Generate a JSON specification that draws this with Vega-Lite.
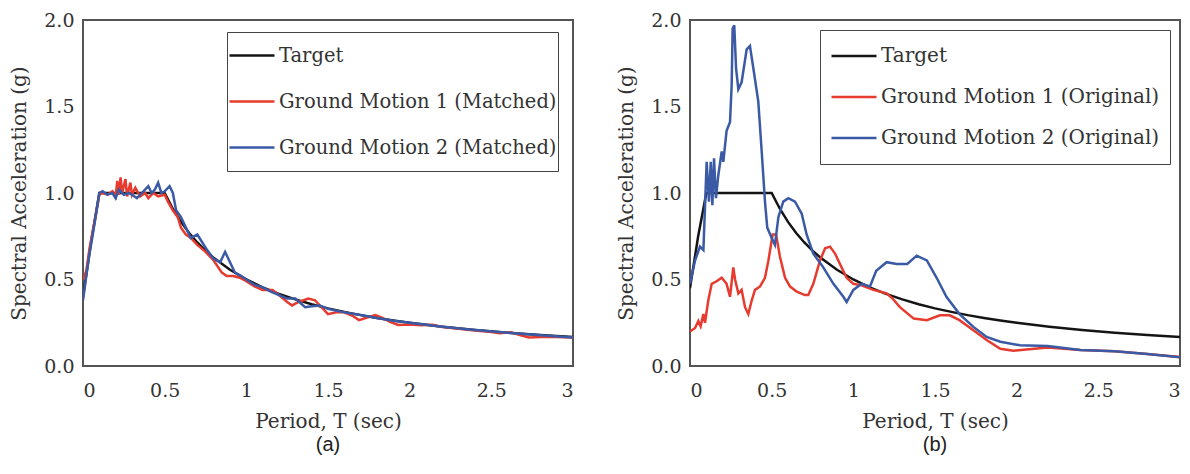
{
  "$schema": "https://vega.github.io/schema/vega-lite/v6.json",
  "padding": {"left": 8, "top": 10, "right": 5, "bottom": 0},
  "spacing": 41,
  "background": "white",
  "config": {
    "view": {"stroke": "#555", "strokeWidth": 2},
    "axis": {"grid": false, "ticks": false, "tickSize": 0, "domain": false, "labelFont": "DejaVu Serif", "labelFontSize": 19, "labelColor": "#333", "titleFont": "DejaVu Serif", "titleFontSize": 20, "titleFontWeight": "normal", "titleColor": "#333"},
    "legend": {"symbolType": "stroke", "symbolSize": 2025, "symbolStrokeWidth": 2.5, "labelFont": "DejaVu Serif", "labelFontSize": 20, "labelColor": "#333", "labelLimit": 400, "labelOffset": 3, "strokeColor": "#444", "fillColor": "white", "orient": "none"}
  },
  "datasets": {
    "a": [
      {"s": "Target", "T": 0, "Sa": 0.4}, {"s": "Target", "T": 0.05, "Sa": 0.72}, {"s": "Target", "T": 0.1, "Sa": 1.0}, {"s": "Target", "T": 0.5, "Sa": 1.0}, {"s": "Target", "T": 0.55, "Sa": 0.909}, {"s": "Target", "T": 0.6, "Sa": 0.833}, {"s": "Target", "T": 0.65, "Sa": 0.769}, {"s": "Target", "T": 0.7, "Sa": 0.714}, {"s": "Target", "T": 0.75, "Sa": 0.667}, {"s": "Target", "T": 0.8, "Sa": 0.625}, {"s": "Target", "T": 0.9, "Sa": 0.556}, {"s": "Target", "T": 1.0, "Sa": 0.5}, {"s": "Target", "T": 1.1, "Sa": 0.455}, {"s": "Target", "T": 1.2, "Sa": 0.417}, {"s": "Target", "T": 1.3, "Sa": 0.385}, {"s": "Target", "T": 1.4, "Sa": 0.357}, {"s": "Target", "T": 1.5, "Sa": 0.333}, {"s": "Target", "T": 1.6, "Sa": 0.313}, {"s": "Target", "T": 1.7, "Sa": 0.294}, {"s": "Target", "T": 1.8, "Sa": 0.278}, {"s": "Target", "T": 1.9, "Sa": 0.263}, {"s": "Target", "T": 2.0, "Sa": 0.25}, {"s": "Target", "T": 2.2, "Sa": 0.227}, {"s": "Target", "T": 2.4, "Sa": 0.208}, {"s": "Target", "T": 2.6, "Sa": 0.192}, {"s": "Target", "T": 2.8, "Sa": 0.179}, {"s": "Target", "T": 3.0, "Sa": 0.167},
      {"s": "Ground Motion 1 (Matched)", "T": 0, "Sa": 0.5}, {"s": "Ground Motion 1 (Matched)", "T": 0.02, "Sa": 0.55}, {"s": "Ground Motion 1 (Matched)", "T": 0.04, "Sa": 0.68}, {"s": "Ground Motion 1 (Matched)", "T": 0.06, "Sa": 0.78}, {"s": "Ground Motion 1 (Matched)", "T": 0.08, "Sa": 0.88}, {"s": "Ground Motion 1 (Matched)", "T": 0.1, "Sa": 0.99}, {"s": "Ground Motion 1 (Matched)", "T": 0.12, "Sa": 1.0}, {"s": "Ground Motion 1 (Matched)", "T": 0.15, "Sa": 0.99}, {"s": "Ground Motion 1 (Matched)", "T": 0.18, "Sa": 1.01}, {"s": "Ground Motion 1 (Matched)", "T": 0.2, "Sa": 0.98}, {"s": "Ground Motion 1 (Matched)", "T": 0.21, "Sa": 1.07}, {"s": "Ground Motion 1 (Matched)", "T": 0.22, "Sa": 0.99}, {"s": "Ground Motion 1 (Matched)", "T": 0.23, "Sa": 1.09}, {"s": "Ground Motion 1 (Matched)", "T": 0.24, "Sa": 1.0}, {"s": "Ground Motion 1 (Matched)", "T": 0.26, "Sa": 1.08}, {"s": "Ground Motion 1 (Matched)", "T": 0.27, "Sa": 0.98}, {"s": "Ground Motion 1 (Matched)", "T": 0.29, "Sa": 1.06}, {"s": "Ground Motion 1 (Matched)", "T": 0.3, "Sa": 0.99}, {"s": "Ground Motion 1 (Matched)", "T": 0.32, "Sa": 1.03}, {"s": "Ground Motion 1 (Matched)", "T": 0.35, "Sa": 0.98}, {"s": "Ground Motion 1 (Matched)", "T": 0.38, "Sa": 1.0}, {"s": "Ground Motion 1 (Matched)", "T": 0.4, "Sa": 0.97}, {"s": "Ground Motion 1 (Matched)", "T": 0.43, "Sa": 1.0}, {"s": "Ground Motion 1 (Matched)", "T": 0.46, "Sa": 0.98}, {"s": "Ground Motion 1 (Matched)", "T": 0.5, "Sa": 0.99}, {"s": "Ground Motion 1 (Matched)", "T": 0.52, "Sa": 0.95}, {"s": "Ground Motion 1 (Matched)", "T": 0.55, "Sa": 0.9}, {"s": "Ground Motion 1 (Matched)", "T": 0.58, "Sa": 0.86}, {"s": "Ground Motion 1 (Matched)", "T": 0.6, "Sa": 0.8}, {"s": "Ground Motion 1 (Matched)", "T": 0.63, "Sa": 0.76}, {"s": "Ground Motion 1 (Matched)", "T": 0.66, "Sa": 0.74}, {"s": "Ground Motion 1 (Matched)", "T": 0.7, "Sa": 0.7}, {"s": "Ground Motion 1 (Matched)", "T": 0.75, "Sa": 0.66}, {"s": "Ground Motion 1 (Matched)", "T": 0.8, "Sa": 0.61}, {"s": "Ground Motion 1 (Matched)", "T": 0.85, "Sa": 0.54}, {"s": "Ground Motion 1 (Matched)", "T": 0.88, "Sa": 0.52}, {"s": "Ground Motion 1 (Matched)", "T": 0.92, "Sa": 0.52}, {"s": "Ground Motion 1 (Matched)", "T": 0.96, "Sa": 0.51}, {"s": "Ground Motion 1 (Matched)", "T": 1.0, "Sa": 0.49}, {"s": "Ground Motion 1 (Matched)", "T": 1.05, "Sa": 0.46}, {"s": "Ground Motion 1 (Matched)", "T": 1.1, "Sa": 0.44}, {"s": "Ground Motion 1 (Matched)", "T": 1.16, "Sa": 0.44}, {"s": "Ground Motion 1 (Matched)", "T": 1.2, "Sa": 0.41}, {"s": "Ground Motion 1 (Matched)", "T": 1.25, "Sa": 0.37}, {"s": "Ground Motion 1 (Matched)", "T": 1.28, "Sa": 0.35}, {"s": "Ground Motion 1 (Matched)", "T": 1.32, "Sa": 0.37}, {"s": "Ground Motion 1 (Matched)", "T": 1.38, "Sa": 0.39}, {"s": "Ground Motion 1 (Matched)", "T": 1.42, "Sa": 0.38}, {"s": "Ground Motion 1 (Matched)", "T": 1.47, "Sa": 0.33}, {"s": "Ground Motion 1 (Matched)", "T": 1.5, "Sa": 0.3}, {"s": "Ground Motion 1 (Matched)", "T": 1.55, "Sa": 0.31}, {"s": "Ground Motion 1 (Matched)", "T": 1.6, "Sa": 0.31}, {"s": "Ground Motion 1 (Matched)", "T": 1.65, "Sa": 0.29}, {"s": "Ground Motion 1 (Matched)", "T": 1.69, "Sa": 0.265}, {"s": "Ground Motion 1 (Matched)", "T": 1.74, "Sa": 0.28}, {"s": "Ground Motion 1 (Matched)", "T": 1.79, "Sa": 0.295}, {"s": "Ground Motion 1 (Matched)", "T": 1.83, "Sa": 0.28}, {"s": "Ground Motion 1 (Matched)", "T": 1.88, "Sa": 0.255}, {"s": "Ground Motion 1 (Matched)", "T": 1.93, "Sa": 0.237}, {"s": "Ground Motion 1 (Matched)", "T": 2.0, "Sa": 0.24}, {"s": "Ground Motion 1 (Matched)", "T": 2.07, "Sa": 0.236}, {"s": "Ground Motion 1 (Matched)", "T": 2.14, "Sa": 0.238}, {"s": "Ground Motion 1 (Matched)", "T": 2.2, "Sa": 0.226}, {"s": "Ground Motion 1 (Matched)", "T": 2.3, "Sa": 0.216}, {"s": "Ground Motion 1 (Matched)", "T": 2.4, "Sa": 0.205}, {"s": "Ground Motion 1 (Matched)", "T": 2.5, "Sa": 0.196}, {"s": "Ground Motion 1 (Matched)", "T": 2.55, "Sa": 0.19}, {"s": "Ground Motion 1 (Matched)", "T": 2.62, "Sa": 0.195}, {"s": "Ground Motion 1 (Matched)", "T": 2.68, "Sa": 0.178}, {"s": "Ground Motion 1 (Matched)", "T": 2.73, "Sa": 0.165}, {"s": "Ground Motion 1 (Matched)", "T": 2.8, "Sa": 0.168}, {"s": "Ground Motion 1 (Matched)", "T": 2.9, "Sa": 0.168}, {"s": "Ground Motion 1 (Matched)", "T": 3.0, "Sa": 0.165},
      {"s": "Ground Motion 2 (Matched)", "T": 0, "Sa": 0.38}, {"s": "Ground Motion 2 (Matched)", "T": 0.02, "Sa": 0.52}, {"s": "Ground Motion 2 (Matched)", "T": 0.04, "Sa": 0.65}, {"s": "Ground Motion 2 (Matched)", "T": 0.06, "Sa": 0.76}, {"s": "Ground Motion 2 (Matched)", "T": 0.08, "Sa": 0.88}, {"s": "Ground Motion 2 (Matched)", "T": 0.1, "Sa": 1.0}, {"s": "Ground Motion 2 (Matched)", "T": 0.12, "Sa": 1.01}, {"s": "Ground Motion 2 (Matched)", "T": 0.15, "Sa": 0.99}, {"s": "Ground Motion 2 (Matched)", "T": 0.18, "Sa": 1.0}, {"s": "Ground Motion 2 (Matched)", "T": 0.2, "Sa": 0.97}, {"s": "Ground Motion 2 (Matched)", "T": 0.22, "Sa": 1.02}, {"s": "Ground Motion 2 (Matched)", "T": 0.25, "Sa": 0.99}, {"s": "Ground Motion 2 (Matched)", "T": 0.28, "Sa": 1.0}, {"s": "Ground Motion 2 (Matched)", "T": 0.3, "Sa": 0.99}, {"s": "Ground Motion 2 (Matched)", "T": 0.33, "Sa": 0.97}, {"s": "Ground Motion 2 (Matched)", "T": 0.36, "Sa": 1.0}, {"s": "Ground Motion 2 (Matched)", "T": 0.38, "Sa": 1.02}, {"s": "Ground Motion 2 (Matched)", "T": 0.4, "Sa": 1.04}, {"s": "Ground Motion 2 (Matched)", "T": 0.42, "Sa": 1.0}, {"s": "Ground Motion 2 (Matched)", "T": 0.44, "Sa": 1.02}, {"s": "Ground Motion 2 (Matched)", "T": 0.46, "Sa": 1.06}, {"s": "Ground Motion 2 (Matched)", "T": 0.48, "Sa": 1.0}, {"s": "Ground Motion 2 (Matched)", "T": 0.5, "Sa": 1.01}, {"s": "Ground Motion 2 (Matched)", "T": 0.53, "Sa": 1.04}, {"s": "Ground Motion 2 (Matched)", "T": 0.55, "Sa": 1.0}, {"s": "Ground Motion 2 (Matched)", "T": 0.57, "Sa": 0.9}, {"s": "Ground Motion 2 (Matched)", "T": 0.6, "Sa": 0.86}, {"s": "Ground Motion 2 (Matched)", "T": 0.63, "Sa": 0.8}, {"s": "Ground Motion 2 (Matched)", "T": 0.66, "Sa": 0.74}, {"s": "Ground Motion 2 (Matched)", "T": 0.7, "Sa": 0.76}, {"s": "Ground Motion 2 (Matched)", "T": 0.72, "Sa": 0.73}, {"s": "Ground Motion 2 (Matched)", "T": 0.76, "Sa": 0.67}, {"s": "Ground Motion 2 (Matched)", "T": 0.8, "Sa": 0.62}, {"s": "Ground Motion 2 (Matched)", "T": 0.84, "Sa": 0.6}, {"s": "Ground Motion 2 (Matched)", "T": 0.87, "Sa": 0.66}, {"s": "Ground Motion 2 (Matched)", "T": 0.9, "Sa": 0.6}, {"s": "Ground Motion 2 (Matched)", "T": 0.93, "Sa": 0.54}, {"s": "Ground Motion 2 (Matched)", "T": 0.97, "Sa": 0.52}, {"s": "Ground Motion 2 (Matched)", "T": 1.0, "Sa": 0.5}, {"s": "Ground Motion 2 (Matched)", "T": 1.05, "Sa": 0.47}, {"s": "Ground Motion 2 (Matched)", "T": 1.1, "Sa": 0.455}, {"s": "Ground Motion 2 (Matched)", "T": 1.15, "Sa": 0.43}, {"s": "Ground Motion 2 (Matched)", "T": 1.2, "Sa": 0.41}, {"s": "Ground Motion 2 (Matched)", "T": 1.25, "Sa": 0.39}, {"s": "Ground Motion 2 (Matched)", "T": 1.3, "Sa": 0.39}, {"s": "Ground Motion 2 (Matched)", "T": 1.36, "Sa": 0.34}, {"s": "Ground Motion 2 (Matched)", "T": 1.4, "Sa": 0.345}, {"s": "Ground Motion 2 (Matched)", "T": 1.45, "Sa": 0.35}, {"s": "Ground Motion 2 (Matched)", "T": 1.5, "Sa": 0.33}, {"s": "Ground Motion 2 (Matched)", "T": 1.6, "Sa": 0.31}, {"s": "Ground Motion 2 (Matched)", "T": 1.7, "Sa": 0.295}, {"s": "Ground Motion 2 (Matched)", "T": 1.8, "Sa": 0.278}, {"s": "Ground Motion 2 (Matched)", "T": 1.9, "Sa": 0.262}, {"s": "Ground Motion 2 (Matched)", "T": 2.0, "Sa": 0.25}, {"s": "Ground Motion 2 (Matched)", "T": 2.2, "Sa": 0.227}, {"s": "Ground Motion 2 (Matched)", "T": 2.4, "Sa": 0.208}, {"s": "Ground Motion 2 (Matched)", "T": 2.6, "Sa": 0.192}, {"s": "Ground Motion 2 (Matched)", "T": 2.8, "Sa": 0.178}, {"s": "Ground Motion 2 (Matched)", "T": 3.0, "Sa": 0.165}
    ],
    "b": [
      {"s": "Target", "T": 0, "Sa": 0.45}, {"s": "Target", "T": 0.05, "Sa": 0.75}, {"s": "Target", "T": 0.1, "Sa": 1.0}, {"s": "Target", "T": 0.5, "Sa": 1.0}, {"s": "Target", "T": 0.55, "Sa": 0.909}, {"s": "Target", "T": 0.6, "Sa": 0.833}, {"s": "Target", "T": 0.65, "Sa": 0.769}, {"s": "Target", "T": 0.7, "Sa": 0.714}, {"s": "Target", "T": 0.75, "Sa": 0.667}, {"s": "Target", "T": 0.8, "Sa": 0.625}, {"s": "Target", "T": 0.9, "Sa": 0.556}, {"s": "Target", "T": 1.0, "Sa": 0.5}, {"s": "Target", "T": 1.1, "Sa": 0.455}, {"s": "Target", "T": 1.2, "Sa": 0.417}, {"s": "Target", "T": 1.3, "Sa": 0.385}, {"s": "Target", "T": 1.4, "Sa": 0.357}, {"s": "Target", "T": 1.5, "Sa": 0.333}, {"s": "Target", "T": 1.6, "Sa": 0.313}, {"s": "Target", "T": 1.7, "Sa": 0.294}, {"s": "Target", "T": 1.8, "Sa": 0.278}, {"s": "Target", "T": 1.9, "Sa": 0.263}, {"s": "Target", "T": 2.0, "Sa": 0.25}, {"s": "Target", "T": 2.2, "Sa": 0.227}, {"s": "Target", "T": 2.4, "Sa": 0.208}, {"s": "Target", "T": 2.6, "Sa": 0.192}, {"s": "Target", "T": 2.8, "Sa": 0.179}, {"s": "Target", "T": 3.0, "Sa": 0.167},
      {"s": "Ground Motion 1 (Original)", "T": 0, "Sa": 0.2}, {"s": "Ground Motion 1 (Original)", "T": 0.031, "Sa": 0.22}, {"s": "Ground Motion 1 (Original)", "T": 0.051, "Sa": 0.26}, {"s": "Ground Motion 1 (Original)", "T": 0.065, "Sa": 0.23}, {"s": "Ground Motion 1 (Original)", "T": 0.082, "Sa": 0.3}, {"s": "Ground Motion 1 (Original)", "T": 0.092, "Sa": 0.25}, {"s": "Ground Motion 1 (Original)", "T": 0.112, "Sa": 0.38}, {"s": "Ground Motion 1 (Original)", "T": 0.133, "Sa": 0.475}, {"s": "Ground Motion 1 (Original)", "T": 0.163, "Sa": 0.49}, {"s": "Ground Motion 1 (Original)", "T": 0.194, "Sa": 0.51}, {"s": "Ground Motion 1 (Original)", "T": 0.224, "Sa": 0.475}, {"s": "Ground Motion 1 (Original)", "T": 0.245, "Sa": 0.4}, {"s": "Ground Motion 1 (Original)", "T": 0.265, "Sa": 0.57}, {"s": "Ground Motion 1 (Original)", "T": 0.276, "Sa": 0.5}, {"s": "Ground Motion 1 (Original)", "T": 0.296, "Sa": 0.42}, {"s": "Ground Motion 1 (Original)", "T": 0.316, "Sa": 0.44}, {"s": "Ground Motion 1 (Original)", "T": 0.337, "Sa": 0.34}, {"s": "Ground Motion 1 (Original)", "T": 0.357, "Sa": 0.3}, {"s": "Ground Motion 1 (Original)", "T": 0.378, "Sa": 0.38}, {"s": "Ground Motion 1 (Original)", "T": 0.398, "Sa": 0.44}, {"s": "Ground Motion 1 (Original)", "T": 0.429, "Sa": 0.46}, {"s": "Ground Motion 1 (Original)", "T": 0.459, "Sa": 0.51}, {"s": "Ground Motion 1 (Original)", "T": 0.48, "Sa": 0.61}, {"s": "Ground Motion 1 (Original)", "T": 0.506, "Sa": 0.76}, {"s": "Ground Motion 1 (Original)", "T": 0.527, "Sa": 0.76}, {"s": "Ground Motion 1 (Original)", "T": 0.551, "Sa": 0.63}, {"s": "Ground Motion 1 (Original)", "T": 0.582, "Sa": 0.51}, {"s": "Ground Motion 1 (Original)", "T": 0.612, "Sa": 0.46}, {"s": "Ground Motion 1 (Original)", "T": 0.653, "Sa": 0.43}, {"s": "Ground Motion 1 (Original)", "T": 0.704, "Sa": 0.41}, {"s": "Ground Motion 1 (Original)", "T": 0.724, "Sa": 0.41}, {"s": "Ground Motion 1 (Original)", "T": 0.755, "Sa": 0.475}, {"s": "Ground Motion 1 (Original)", "T": 0.796, "Sa": 0.61}, {"s": "Ground Motion 1 (Original)", "T": 0.827, "Sa": 0.68}, {"s": "Ground Motion 1 (Original)", "T": 0.857, "Sa": 0.69}, {"s": "Ground Motion 1 (Original)", "T": 0.888, "Sa": 0.65}, {"s": "Ground Motion 1 (Original)", "T": 0.918, "Sa": 0.59}, {"s": "Ground Motion 1 (Original)", "T": 0.959, "Sa": 0.51}, {"s": "Ground Motion 1 (Original)", "T": 1.0, "Sa": 0.475}, {"s": "Ground Motion 1 (Original)", "T": 1.051, "Sa": 0.466}, {"s": "Ground Motion 1 (Original)", "T": 1.122, "Sa": 0.44}, {"s": "Ground Motion 1 (Original)", "T": 1.204, "Sa": 0.42}, {"s": "Ground Motion 1 (Original)", "T": 1.24, "Sa": 0.39}, {"s": "Ground Motion 1 (Original)", "T": 1.285, "Sa": 0.34}, {"s": "Ground Motion 1 (Original)", "T": 1.37, "Sa": 0.274}, {"s": "Ground Motion 1 (Original)", "T": 1.45, "Sa": 0.265}, {"s": "Ground Motion 1 (Original)", "T": 1.53, "Sa": 0.293}, {"s": "Ground Motion 1 (Original)", "T": 1.59, "Sa": 0.293}, {"s": "Ground Motion 1 (Original)", "T": 1.65, "Sa": 0.265}, {"s": "Ground Motion 1 (Original)", "T": 1.735, "Sa": 0.207}, {"s": "Ground Motion 1 (Original)", "T": 1.816, "Sa": 0.15}, {"s": "Ground Motion 1 (Original)", "T": 1.9, "Sa": 0.1}, {"s": "Ground Motion 1 (Original)", "T": 1.98, "Sa": 0.088}, {"s": "Ground Motion 1 (Original)", "T": 2.06, "Sa": 0.095}, {"s": "Ground Motion 1 (Original)", "T": 2.19, "Sa": 0.107}, {"s": "Ground Motion 1 (Original)", "T": 2.39, "Sa": 0.092}, {"s": "Ground Motion 1 (Original)", "T": 2.6, "Sa": 0.085}, {"s": "Ground Motion 1 (Original)", "T": 2.8, "Sa": 0.069}, {"s": "Ground Motion 1 (Original)", "T": 3.0, "Sa": 0.052},
      {"s": "Ground Motion 2 (Original)", "T": 0, "Sa": 0.475}, {"s": "Ground Motion 2 (Original)", "T": 0.031, "Sa": 0.61}, {"s": "Ground Motion 2 (Original)", "T": 0.061, "Sa": 0.69}, {"s": "Ground Motion 2 (Original)", "T": 0.082, "Sa": 0.67}, {"s": "Ground Motion 2 (Original)", "T": 0.102, "Sa": 1.18}, {"s": "Ground Motion 2 (Original)", "T": 0.116, "Sa": 0.95}, {"s": "Ground Motion 2 (Original)", "T": 0.127, "Sa": 1.18}, {"s": "Ground Motion 2 (Original)", "T": 0.137, "Sa": 0.93}, {"s": "Ground Motion 2 (Original)", "T": 0.147, "Sa": 1.2}, {"s": "Ground Motion 2 (Original)", "T": 0.159, "Sa": 0.97}, {"s": "Ground Motion 2 (Original)", "T": 0.173, "Sa": 1.1}, {"s": "Ground Motion 2 (Original)", "T": 0.194, "Sa": 1.24}, {"s": "Ground Motion 2 (Original)", "T": 0.204, "Sa": 1.18}, {"s": "Ground Motion 2 (Original)", "T": 0.224, "Sa": 1.36}, {"s": "Ground Motion 2 (Original)", "T": 0.245, "Sa": 1.41}, {"s": "Ground Motion 2 (Original)", "T": 0.255, "Sa": 1.62}, {"s": "Ground Motion 2 (Original)", "T": 0.261, "Sa": 1.95}, {"s": "Ground Motion 2 (Original)", "T": 0.271, "Sa": 1.97}, {"s": "Ground Motion 2 (Original)", "T": 0.282, "Sa": 1.72}, {"s": "Ground Motion 2 (Original)", "T": 0.296, "Sa": 1.6}, {"s": "Ground Motion 2 (Original)", "T": 0.316, "Sa": 1.64}, {"s": "Ground Motion 2 (Original)", "T": 0.347, "Sa": 1.83}, {"s": "Ground Motion 2 (Original)", "T": 0.367, "Sa": 1.85}, {"s": "Ground Motion 2 (Original)", "T": 0.388, "Sa": 1.72}, {"s": "Ground Motion 2 (Original)", "T": 0.418, "Sa": 1.53}, {"s": "Ground Motion 2 (Original)", "T": 0.439, "Sa": 1.24}, {"s": "Ground Motion 2 (Original)", "T": 0.459, "Sa": 0.95}, {"s": "Ground Motion 2 (Original)", "T": 0.473, "Sa": 0.8}, {"s": "Ground Motion 2 (Original)", "T": 0.5, "Sa": 0.74}, {"s": "Ground Motion 2 (Original)", "T": 0.52, "Sa": 0.7}, {"s": "Ground Motion 2 (Original)", "T": 0.541, "Sa": 0.86}, {"s": "Ground Motion 2 (Original)", "T": 0.571, "Sa": 0.95}, {"s": "Ground Motion 2 (Original)", "T": 0.602, "Sa": 0.97}, {"s": "Ground Motion 2 (Original)", "T": 0.643, "Sa": 0.95}, {"s": "Ground Motion 2 (Original)", "T": 0.684, "Sa": 0.88}, {"s": "Ground Motion 2 (Original)", "T": 0.714, "Sa": 0.76}, {"s": "Ground Motion 2 (Original)", "T": 0.755, "Sa": 0.65}, {"s": "Ground Motion 2 (Original)", "T": 0.816, "Sa": 0.57}, {"s": "Ground Motion 2 (Original)", "T": 0.878, "Sa": 0.475}, {"s": "Ground Motion 2 (Original)", "T": 0.939, "Sa": 0.4}, {"s": "Ground Motion 2 (Original)", "T": 0.959, "Sa": 0.37}, {"s": "Ground Motion 2 (Original)", "T": 1.0, "Sa": 0.44}, {"s": "Ground Motion 2 (Original)", "T": 1.051, "Sa": 0.475}, {"s": "Ground Motion 2 (Original)", "T": 1.102, "Sa": 0.46}, {"s": "Ground Motion 2 (Original)", "T": 1.14, "Sa": 0.55}, {"s": "Ground Motion 2 (Original)", "T": 1.204, "Sa": 0.6}, {"s": "Ground Motion 2 (Original)", "T": 1.265, "Sa": 0.59}, {"s": "Ground Motion 2 (Original)", "T": 1.33, "Sa": 0.59}, {"s": "Ground Motion 2 (Original)", "T": 1.388, "Sa": 0.638}, {"s": "Ground Motion 2 (Original)", "T": 1.45, "Sa": 0.61}, {"s": "Ground Motion 2 (Original)", "T": 1.51, "Sa": 0.51}, {"s": "Ground Motion 2 (Original)", "T": 1.57, "Sa": 0.4}, {"s": "Ground Motion 2 (Original)", "T": 1.65, "Sa": 0.3}, {"s": "Ground Motion 2 (Original)", "T": 1.735, "Sa": 0.226}, {"s": "Ground Motion 2 (Original)", "T": 1.816, "Sa": 0.168}, {"s": "Ground Motion 2 (Original)", "T": 1.9, "Sa": 0.14}, {"s": "Ground Motion 2 (Original)", "T": 2.02, "Sa": 0.12}, {"s": "Ground Motion 2 (Original)", "T": 2.19, "Sa": 0.115}, {"s": "Ground Motion 2 (Original)", "T": 2.39, "Sa": 0.092}, {"s": "Ground Motion 2 (Original)", "T": 2.6, "Sa": 0.085}, {"s": "Ground Motion 2 (Original)", "T": 2.8, "Sa": 0.069}, {"s": "Ground Motion 2 (Original)", "T": 3.0, "Sa": 0.05}
    ]
  },
  "hconcat": [
    {
      "width": 490,
      "height": 346,
      "data": {"name": "a"},
      "title": {"text": "(a)", "orient": "bottom", "font": "Liberation Sans", "fontSize": 20, "fontWeight": "normal", "offset": 4, "color": "#222"},
      "mark": {"type": "line", "strokeWidth": 2.5, "clip": true},
      "encoding": {
        "x": {"field": "T", "type": "quantitative", "scale": {"domain": [0, 3], "nice": false}, "axis": {"values": [0, 0.5, 1, 1.5, 2, 2.5, 3], "format": "~g", "title": "Period, T (sec)", "labelPadding": 15, "titlePadding": 11}},
        "y": {"field": "Sa", "type": "quantitative", "scale": {"domain": [0, 2], "nice": false}, "axis": {"values": [0, 0.5, 1, 1.5, 2], "format": ".1f", "title": "Spectral Acceleration (g)", "labelPadding": 9, "titlePadding": 14}},
        "color": {"field": "s", "type": "nominal", "scale": {"domain": ["Target", "Ground Motion 1 (Matched)", "Ground Motion 2 (Matched)"], "range": ["#141414", "#e63b2e", "#3a5aa6"]}, "legend": {"title": null, "legendX": 144, "legendY": 12, "padding": 1, "labelFontSize": 19.5, "clipHeight": 45, "rowPadding": 1}}
      }
    },
    {
      "width": 490,
      "height": 346,
      "data": {"name": "b"},
      "title": {"text": "(b)", "orient": "bottom", "font": "Liberation Sans", "fontSize": 20, "fontWeight": "normal", "offset": 4, "color": "#222"},
      "mark": {"type": "line", "strokeWidth": 2.5, "clip": true},
      "encoding": {
        "x": {"field": "T", "type": "quantitative", "scale": {"domain": [0, 3], "nice": false}, "axis": {"values": [0, 0.5, 1, 1.5, 2, 2.5, 3], "format": "~g", "title": "Period, T (sec)", "labelPadding": 15, "titlePadding": 11}},
        "y": {"field": "Sa", "type": "quantitative", "scale": {"domain": [0, 2], "nice": false}, "axis": {"values": [0, 0.5, 1, 1.5, 2], "format": ".1f", "title": "Spectral Acceleration (g)", "labelPadding": 9, "titlePadding": 14}},
        "color": {"field": "s", "type": "nominal", "scale": {"domain": ["Target", "Ground Motion 1 (Original)", "Ground Motion 2 (Original)"], "range": ["#141414", "#e63b2e", "#3a5aa6"]}, "legend": {"title": null, "legendX": 130, "legendY": 10, "padding": 10, "clipHeight": 32, "rowPadding": 9}}
      }
    }
  ],
  "resolve": {"scale": {"color": "independent"}, "legend": {"color": "independent"}}
}
